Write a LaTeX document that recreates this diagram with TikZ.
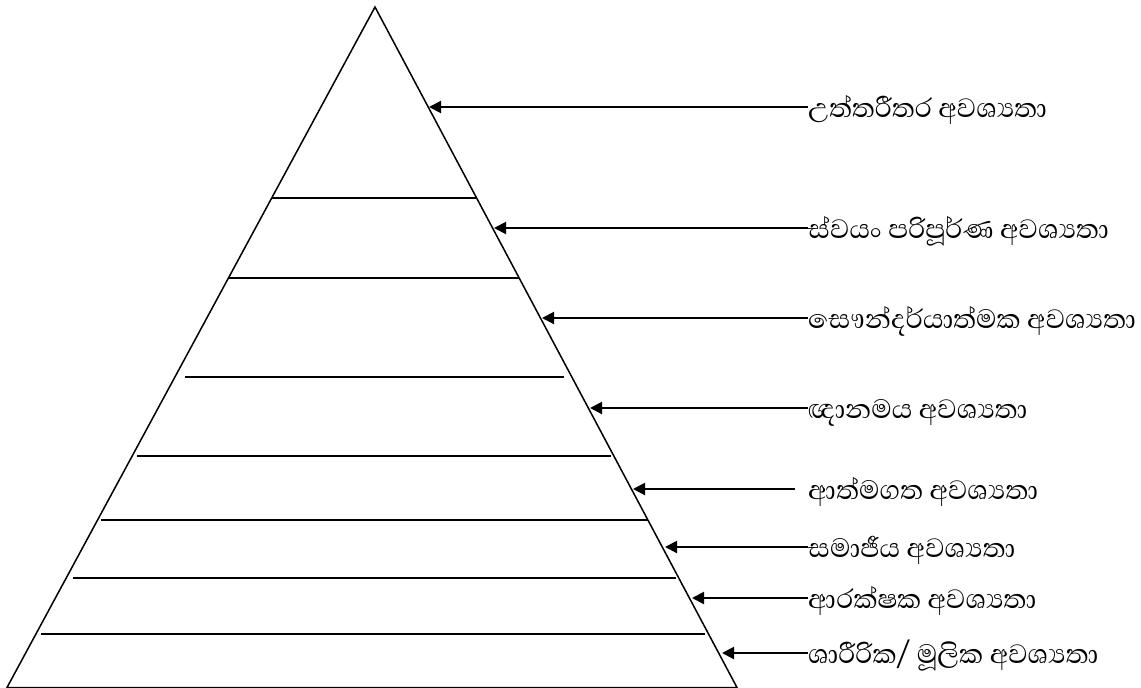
\documentclass[tikz,border=0pt]{standalone}
\usepackage{fontspec}
\newfontfamily\sinhala[Script=Sinhala]{Abhaya Libre}
\usetikzlibrary{arrows.meta}
\begin{document}
\begin{tikzpicture}[x=1pt,y=-1pt,
  edge/.style={line width=1.5pt, line join=miter},
  level/.style={line width=1.5pt},
  lab/.style={anchor=west, inner sep=0pt, font=\sinhala\fontsize{34}{40}\selectfont, text height=26pt, text depth=6pt},
  arr/.style={line width=2pt, -{Triangle[length=12pt,width=12pt]}}]
\useasboundingbox (0,0) rectangle (1141,688);
% pyramid
\draw[edge] (375,7) -- (737,687.5) -- (7,687.5) -- cycle;
\draw[level] (272,198) -- (476,198);
\draw[level] (229,278) -- (519,278);
\draw[level] (185,377) -- (564,377);
\draw[level] (137,456) -- (611,456);
\draw[level] (101,520) -- (648,520);
\draw[level] (73,578) -- (676,578);
\draw[level] (41,634) -- (705,634);
% labels
\node[lab] (t1) at (808,107) {උත්තරීතර අවශ්‍යතා};
\node[lab] (t2) at (808,228) {ස්වයං පරිපූර්ණ අවශ්‍යතා};
\node[lab] (t3) at (808,318) {සෞන්දර්යාත්මක අවශ්‍යතා};
\node[lab] (t4) at (808,408) {ඥානමය අවශ්‍යතා};
\node[lab] (t5) at (808,489) {ආත්මගත අවශ්‍යතා};
\node[lab] (t6) at (808,547) {සමාජීය අවශ්‍යතා};
\node[lab] (t7) at (808,598) {ආරක්ෂක අවශ්‍යතා};
\node[lab] (t8) at (808,653) {ශාරීරික/ මූලික අවශ්‍යතා};
% arrow tips on the pyramid edge
\coordinate (c1) at (429,107);
\coordinate (c2) at (494,228);
\coordinate (c3) at (542,318);
\coordinate (c4) at (590,408);
\coordinate (c5) at (633,489);
\coordinate (c6) at (665,547);
\coordinate (c7) at (692,598);
\coordinate (c8) at (722,653);
\draw[arr] (t1.west) -- (c1);
\draw[arr] (t2.west) -- (c2);
\draw[arr] (t3.west) -- (c3);
\draw[arr] (t4.west) -- (c4);
\draw[arr] ([xshift=-13pt]t5.west) -- (c5);
\draw[arr] (t6.west) -- (c6);
\draw[arr] (t7.west) -- (c7);
\draw[arr] (t8.west) -- (c8);
\end{tikzpicture}
\end{document}
